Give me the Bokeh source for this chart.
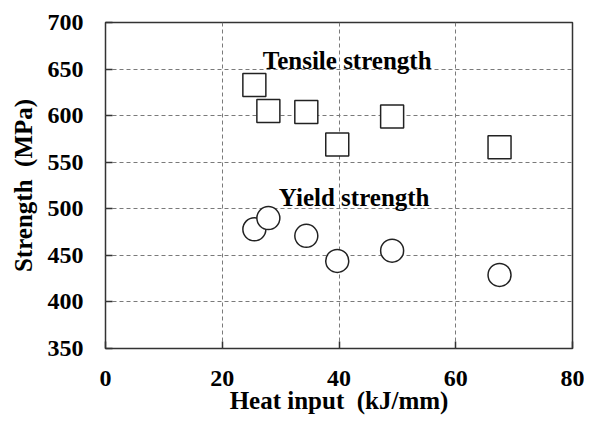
from bokeh.plotting import figure
from bokeh.models import Range1d, FixedTicker
from bokeh.core.properties import value
from bokeh.embed import file_html
from bokeh.resources import INLINE

# Data
heat_input = [25.5, 27.9, 34.4, 39.7, 49.1, 67.5]
tensile_strength = [633, 605, 604, 569, 599, 566]
yield_heat_input = [25.5, 27.9, 34.4, 39.7, 49.1, 67.5]
yield_strength = [478, 490, 471, 444, 455, 429]

x_ticks = [0, 20, 40, 60, 80]
y_ticks = [350, 400, 450, 500, 550, 600, 650, 700]

labels = ["Tensile strength", "Yield strength"]
label_x = [41.4, 42.6]
label_y = [659, 512]

FONT = "Liberation Serif"
FS = "24px"
FS_BIG = "25px"

p = figure(width=584, height=413, output_backend="svg", toolbar_location=None,
           x_range=Range1d(0, 80), y_range=Range1d(350, 700),
           min_border_left=105, min_border_right=12, min_border_top=22, min_border_bottom=65)
p.frame_width = 467
p.frame_height = 326

p.outline_line_color = "#333333"
p.outline_line_width = 1.5
p.background_fill_color = "white"
p.border_fill_color = "white"

for ax in (p.xaxis[0], p.yaxis[0]):
    ax.axis_line_color = None
    ax.major_tick_in = 7
    ax.major_tick_out = 0
    ax.major_tick_line_color = "#333333"
    ax.major_tick_line_width = 1.5
    ax.minor_tick_line_color = None
    ax.major_label_text_font = FONT
    ax.major_label_text_font_style = "bold"
    ax.major_label_text_font_size = FS
    ax.major_label_text_color = "black"
    ax.axis_label_text_font = FONT
    ax.axis_label_text_font_style = "bold"
    ax.axis_label_text_font_size = FS_BIG
    ax.axis_label_text_color = "black"
    ax.major_label_standoff = 22

p.xaxis[0].ticker = FixedTicker(ticks=x_ticks)
p.yaxis[0].ticker = FixedTicker(ticks=y_ticks)
p.xaxis[0].axis_label = "Heat input \u00a0(kJ/mm)"
p.yaxis[0].axis_label = "Strength \u00a0(MPa)"
p.xaxis[0].axis_label_standoff = -2
p.yaxis[0].axis_label_standoff = 8

for g in (p.xgrid[0], p.ygrid[0]):
    g.grid_line_color = "#7a7a7a"
    g.grid_line_dash = "4 3"
    g.grid_line_width = 1
p.xgrid[0].ticker = FixedTicker(ticks=x_ticks)
p.ygrid[0].ticker = FixedTicker(ticks=y_ticks)

p.scatter(heat_input, tensile_strength, marker="square", size=23,
          fill_color="white", line_color="#222222", line_width=1.5)
p.scatter(yield_heat_input, yield_strength, marker="circle", size=23,
          fill_color="white", line_color="#222222", line_width=1.5)

p.text(x=label_x, y=label_y, text=labels, text_font=value(FONT),
       text_font_style="bold", text_font_size=FS_BIG, text_align="center",
       text_baseline="alphabetic", text_color="black")

open("out.html", "w").write(file_html(p, INLINE))
